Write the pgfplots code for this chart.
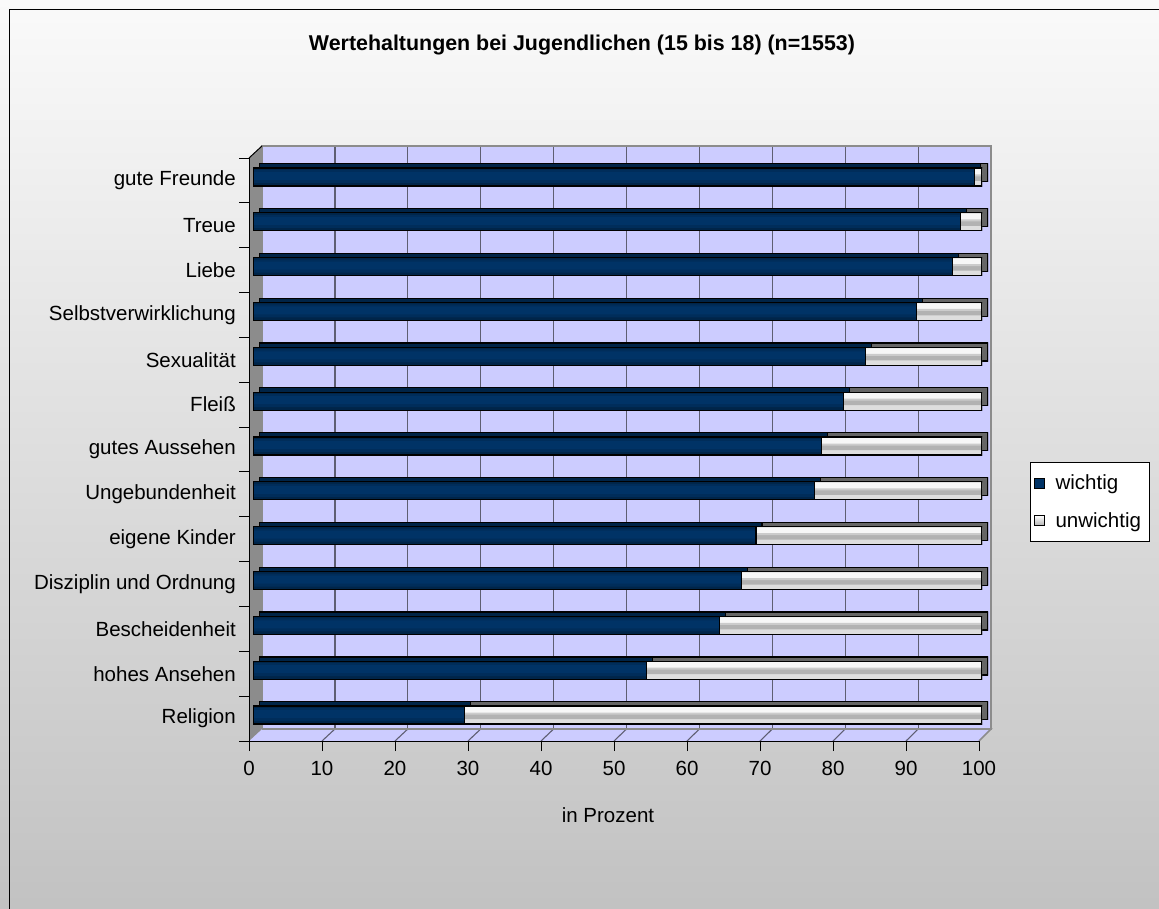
\documentclass[border=0pt]{standalone}
\usepackage{pgfplots}
\usepackage{pgfplotstable}
\pgfplotsset{compat=1.18}
\usepackage{fontspec}
\setmainfont{Liberation Sans}
\definecolor{lav}{HTML}{CCCCFF}
\definecolor{wnavy}{HTML}{003366}
\definecolor{gridc}{HTML}{5E5E72}
\newcommand{\chartfont}{\fontsize{20.5pt}{24pt}\selectfont}
\pgfplotstableread{
y wichtig unwichtig
0 29 71
1 54 46
2 64 36
3 67 33
4 69 31
5 77 23
6 78 22
7 81 19
8 84 16
9 91 9
10 96 4
11 97 3
12 99 1
}\werte
\pgfplotsset{barax/.style={anchor=south west,scale only axis,
  width=729pt,height=583pt,xmin=0,xmax=100,ymin=-0.5,ymax=12.5,
  hide axis,xbar stacked,bar width=18pt}}
\begin{document}
\begin{tikzpicture}[x=1pt,y=1pt,font=\chartfont]
\path[use as bounding box] (0,0) rectangle (1159,-909);
\shade[top color=black!2, bottom color=black!24] (0,0) rectangle (1159,-909);
\draw[black,line width=1.5pt] (9.5,-909) -- (9.5,-9.5) -- (1159,-9.5);
\node[font=\bfseries\fontsize{21.4pt}{25pt}\selectfont] at (582,-45) {Wertehaltungen bei Jugendlichen (15 bis 18) (n=1553)};

% back wall
\begin{axis}[at={(262pt,-729pt)},anchor=south west,scale only axis,
  width=729pt,height=583pt,xmin=0,xmax=100,ymin=-0.5,ymax=12.5,
  axis background/.style={fill=lav},
  axis line style={draw=black!45,line width=1.5pt},
  xtick={10,20,...,90},ytick=\empty,xticklabels={},
  major tick length=0pt,xmajorgrids,
  grid style={gridc,line width=1.2pt}]
\end{axis}

% floor and side wall
\fill[lav] (249,-741) -- (979,-741) -- (991,-729) -- (262,-729) -- cycle;
\foreach \k in {1,...,9} {\draw[gridc,line width=1.1pt] (262+72.9*\k,-729) -- (249+73*\k,-741);}
\draw[black!45,line width=1.5pt] (979,-741) -- (991,-729) -- (262,-729);
\fill[black!45] (249,-158) -- (262,-146) -- (262,-729) -- (249,-741) -- cycle;
\draw[black,line width=1pt] (249,-158) -- (262,-146);

% bar extrusion (top and end faces)
\begin{axis}[barax,at={(259pt,-733.2pt)}]
\addplot[fill=wnavy!70!black,draw=black,line width=1.2pt] table[x=wichtig,y=y] {\werte};
\addplot[fill=black!60,draw=black,line width=1.2pt] table[x=unwichtig,y=y] {\werte};
\end{axis}

% bar front faces: base
\begin{axis}[barax,at={(253pt,-737.5pt)},
  legend style={at={(axis description cs:1.0658,0.4726)},anchor=north west,
    draw=black,line width=1pt,fill=white,inner sep=4pt,row sep=4pt,
    font=\chartfont,nodes={inner ysep=8.5pt,inner xsep=4pt}},
  legend cell align=left]
\addplot[fill=wnavy!72!black,draw=black,line width=1.2pt,
  legend image code/.code={\draw[fill=wnavy,draw=black,line width=1pt] (0pt,-5pt) rectangle (10pt,5pt);\path (16pt,0pt);}]
 table[x=wichtig,y=y] {\werte};
\addlegendentry{wichtig}
\addplot[fill=black!13,draw=black,line width=1.2pt,
  legend image code/.code={\draw[top color=white,bottom color=black!30,draw=black,line width=1pt] (0pt,-5pt) rectangle (10pt,5pt);\path (16pt,0pt);}]
 table[x=unwichtig,y=y] {\werte};
\addlegendentry{unwichtig\hspace{4pt}}
\end{axis}

% bar front faces: shading bands
\begin{axis}[barax,at={(253pt,-737.5pt)}]
\addplot[fill=wnavy!88!black,draw=none,bar width=13pt,bar shift=0.5pt] table[x=wichtig,y=y] {\werte};
\addplot[fill=black!30,draw=none,bar width=5pt,bar shift=-1.5pt] table[x=unwichtig,y=y] {\werte};
\end{axis}
\begin{axis}[barax,at={(253pt,-737.5pt)}]
\addplot[fill=wnavy,draw=none,bar width=8pt,bar shift=1pt] table[x=wichtig,y=y] {\werte};
\addplot[fill=white!97!black,draw=none,bar width=6pt,bar shift=5pt] table[x=unwichtig,y=y] {\werte};
\end{axis}
\begin{axis}[barax,at={(253pt,-737.5pt)}]
\addplot[fill=none,draw=none,bar width=8pt] table[x=wichtig,y=y] {\werte};
\addplot[fill=black!20,draw=none,bar width=2pt,bar shift=1.5pt] table[x=unwichtig,y=y] {\werte};
\end{axis}
% bar outlines on top
\begin{axis}[barax,at={(253pt,-737.5pt)}]
\addplot[fill=none,draw=black,line width=1.2pt] table[x=wichtig,y=y] {\werte};
\addplot[fill=none,draw=black,line width=1.2pt] table[x=unwichtig,y=y] {\werte};
\end{axis}

% front axis with ticks and labels
\begin{axis}[at={(249pt,-741pt)},anchor=south west,scale only axis,
  width=730pt,height=583pt,xmin=0,xmax=100,ymin=-0.5,ymax=12.5,
  axis x line*=bottom,axis y line*=left,
  axis line style={black,line width=1pt,-},
  tick style={black,line width=1pt},
  tick align=outside,major tick length=10pt,
  xtick={0,10,...,100},
  ytick={-0.5,0.5,...,12.5},yticklabels={,,,,,,,,,,,,,,},
  extra y ticks={0,1,...,12},
  extra y tick labels={Religion,hohes Ansehen,Bescheidenheit,Disziplin und Ordnung,eigene Kinder,Ungebundenheit,gutes Aussehen,Flei{\ss},Sexualit\"at,Selbstverwirklichung,Liebe,Treue,gute Freunde},
  extra y tick style={major tick length=0pt,
    yticklabel style={anchor=east,inner sep=0pt,xshift=-13pt}},
  xticklabel style={anchor=center,inner sep=0pt,yshift=-17pt},
  tick label style={font=\chartfont},
  /pgf/number format/assume math mode=true,
  xlabel={in Prozent},
  xlabel style={at={(axis description cs:0.4918,0)},anchor=center,yshift=-74pt,font=\chartfont}]
\end{axis}
\end{tikzpicture}
\end{document}
